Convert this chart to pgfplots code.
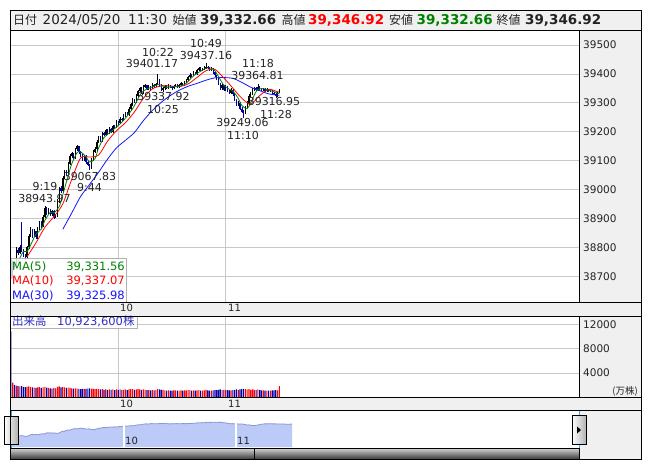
\documentclass[border=0pt]{standalone}
\usepackage{pgfplots}
\usepackage{pgfplotstable}
\pgfplotsset{compat=1.18}
\usepackage{fontspec}
\setmainfont{DejaVu Sans}
\newfontfamily\jp{Noto Sans CJK JP}
\newcommand\fs[1]{\fontsize{#1}{#1}\selectfont}

\definecolor{panelgray}{RGB}{240,240,240}
\definecolor{gridgray}{RGB}{200,200,200}
\definecolor{candleblue}{RGB}{0,0,170}
\definecolor{maG}{RGB}{0,128,0}
\definecolor{maR}{RGB}{255,0,0}
\definecolor{maB}{RGB}{20,20,255}
\definecolor{volred}{RGB}{255,0,0}
\definecolor{volblue}{RGB}{0,0,170}
\definecolor{navfill}{RGB}{187,202,247}
\definecolor{navline}{RGB}{140,150,210}
\definecolor{labblue}{RGB}{50,50,200}
\definecolor{txtgray}{RGB}{35,35,35}
\definecolor{handcyan}{RGB}{60,170,220}

% one-minute candles, 9:00 = 0 ; volume ; d = 1 up / 0 down
\pgfplotstableread{
t o h l c v d
0 38745 38760 38690 38700 10900 0
1 38700 38752 38695 38745 2400 1
2 38745 38750 38728 38735 2000 0
3 38735 38800 38730 38790 1900 1
4 38790 38798 38772 38780 1800 0
5 38780 38808 38776 38800 1750 1
6 38800 38889 38785 38790 1800 0
7 38790 38795 38765 38770 1700 0
8 38770 38778 38758 38765 1650 0
9 38765 38806 38760 38800 1700 1
10 38800 38846 38796 38840 1750 1
11 38840 38871 38835 38860 1650 1
12 38860 38864 38832 38840 1600 0
13 38840 38862 38836 38855 1550 1
14 38855 38858 38828 38835 1500 0
15 38835 38870 38830 38865 1600 1
16 38865 38892 38860 38885 1650 1
17 38885 38890 38868 38875 1500 0
18 38875 38912 38870 38905 1600 1
19 38905 38943.97 38900 38935 1700 1
20 38935 38940 38912 38920 1550 0
21 38920 38936 38915 38930 1500 1
22 38930 38933 38908 38915 1450 0
23 38915 38930 38910 38925 1400 1
24 38925 38928 38898 38905 1500 0
25 38905 38916 38900 38910 1450 1
26 38910 38966 38906 38960 1700 1
27 38960 39010 38955 39005 1750 1
28 39005 39012 38988 38995 1600 0
29 38995 39046 38990 39040 1650 1
30 39040 39067 39035 39060 1600 1
31 39060 39066 39048 39055 1500 0
32 39055 39096 39050 39090 1550 1
33 39090 39122 39085 39115 1500 1
34 39115 39131 39108 39125 1450 1
35 39125 39128 39102 39110 1400 0
36 39110 39145 39105 39140 1450 1
37 39140 39154 39134 39150 1400 1
38 39150 39152 39124 39130 1350 0
39 39130 39134 39114 39120 1300 0
40 39120 39126 39098 39105 1350 0
41 39105 39120 39100 39115 1300 1
42 39115 39118 39090 39095 1350 0
43 39095 39100 39080 39085 1400 0
44 39085 39090 39067.83 39075 1450 0
45 39075 39110 39072 39105 1400 1
46 39105 39136 39100 39130 1350 1
47 39130 39146 39126 39140 1300 1
48 39140 39170 39135 39165 1350 1
49 39165 39186 39160 39180 1300 1
50 39180 39184 39164 39170 1250 0
51 39170 39200 39166 39195 1300 1
52 39195 39198 39185 39190 1200 0
53 39190 39210 39186 39205 1250 1
54 39205 39208 39190 39195 1200 0
55 39195 39215 39192 39210 1250 1
56 39210 39214 39196 39200 1200 0
57 39200 39225 39196 39220 1250 1
58 39220 39224 39210 39215 1150 0
59 39215 39240 39212 39235 1250 1
60 39235 39238 39225 39230 1200 0
61 39230 39250 39226 39245 1250 1
62 39245 39248 39235 39240 1150 0
63 39240 39260 39236 39255 1200 1
64 39255 39270 39250 39265 1250 1
65 39265 39268 39255 39260 1150 0
66 39260 39285 39256 39280 1250 1
67 39280 39300 39276 39295 1300 1
68 39295 39316 39290 39310 1300 1
69 39310 39314 39300 39305 1200 0
70 39305 39330 39300 39325 1250 1
71 39325 39346 39320 39340 1300 1
72 39340 39356 39336 39350 1250 1
73 39350 39354 39330 39335 1200 0
74 39335 39360 39332 39355 1250 1
75 39355 39366 39350 39360 1200 1
76 39360 39363 39343 39348 1150 0
77 39348 39360 39345 39355 1150 1
78 39355 39358 39345 39350 1100 0
79 39350 39367 39347 39362 1150 1
80 39362 39365 39353 39358 1100 0
81 39358 39370 39354 39365 1150 1
82 39365 39401.17 39360 39380 1300 1
83 39380 39384 39355 39360 1250 0
84 39360 39364 39340 39345 1200 0
85 39345 39355 39337.92 39350 1200 1
86 39350 39362 39346 39358 1100 1
87 39358 39361 39348 39352 1050 0
88 39352 39364 39349 39360 1100 1
89 39360 39362 39351 39355 1050 0
90 39355 39358 39346 39350 1050 0
91 39350 39362 39347 39358 1100 1
92 39358 39366 39355 39362 1100 1
93 39362 39364 39351 39355 1050 0
94 39355 39364 39352 39360 1050 1
95 39360 39372 39357 39368 1100 1
96 39368 39370 39358 39362 1050 0
97 39362 39376 39359 39372 1100 1
98 39372 39382 39369 39378 1100 1
99 39378 39394 39375 39390 1150 1
100 39390 39402 39386 39398 1150 1
101 39398 39400 39390 39395 1050 0
102 39395 39410 39392 39405 1100 1
103 39405 39408 39396 39400 1050 0
104 39400 39416 39397 39412 1100 1
105 39412 39425 39409 39420 1150 1
106 39420 39423 39411 39415 1050 0
107 39415 39422 39412 39418 1050 1
108 39418 39428 39415 39422 1100 1
109 39422 39437.16 39418 39425 1200 1
110 39425 39428 39416 39420 1100 0
111 39420 39424 39410 39415 1050 0
112 39415 39424 39412 39418 1050 1
113 39418 39421 39400 39405 1100 0
114 39405 39408 39390 39395 1150 0
115 39395 39398 39380 39385 1150 0
116 39385 39388 39360 39365 1200 0
117 39365 39368 39344 39350 1250 0
118 39350 39365 39346 39360 1150 1
119 39360 39363 39340 39345 1200 0
120 39345 39360 39342 39355 1150 1
121 39355 39358 39336 39340 1150 0
122 39340 39344 39330 39335 1100 0
123 39335 39350 39332 39345 1100 1
124 39345 39348 39325 39330 1150 0
125 39330 39333 39305 39310 1200 0
126 39310 39314 39290 39295 1250 0
127 39295 39305 39290 39300 1150 1
128 39300 39303 39275 39280 1250 0
129 39280 39284 39264 39270 1300 0
130 39270 39276 39249.06 39265 1350 0
131 39265 39290 39260 39285 1300 1
132 39285 39305 39281 39300 1250 1
133 39300 39330 39296 39325 1300 1
134 39325 39336 39320 39330 1200 1
135 39330 39350 39326 39345 1250 1
136 39345 39356 39340 39350 1200 1
137 39350 39354 39340 39345 1150 0
138 39345 39364.81 39342 39355 1250 1
139 39355 39358 39345 39350 1150 0
140 39350 39353 39340 39345 1100 0
141 39345 39352 39342 39348 1100 1
142 39348 39351 39338 39342 1050 0
143 39342 39350 39339 39345 1050 1
144 39345 39348 39336 39340 1050 0
145 39340 39347 39337 39343 1050 1
146 39343 39346 39330 39335 1100 0
147 39335 39338 39326 39330 1100 0
148 39330 39333 39316.95 39325 1150 0
149 39325 39336 39322 39332.66 1100 1
150 39332.66 39346.92 39332.66 39346.92 1800 1
}\candles

\pgfplotsset{
  panel/.style={scale only axis, anchor=south west, width=569pt,
    xmin=-0.5, xmax=317.4,
    axis line style={draw=none}, major tick length=0pt,
    grid=major, major grid style={draw=gridgray, line width=0.8pt},
    xtick={60,120}, xticklabels={},
    scaled y ticks=false,
    yticklabel pos=right,
    yticklabel style={font=\fs{10.5}, text=txtgray, inner sep=0pt, xshift=4pt}},
  % candles: error bars only; rows of the other colour get zero length
  wick/.style={draw=none, mark=none, error bars/.cd, y dir=both, y explicit,
    error mark=none, error bar style={draw=#1, line width=0.5pt, line cap=butt}},
  body/.style={draw=none, mark=none, error bars/.cd, y dir=both, y explicit,
    error mark=none, error bar style={draw=#1, line width=1.3pt, line cap=butt}},
  vol/.style={ybar, bar width=1.15pt, bar shift=0pt, draw=none, fill=#1, mark=none},
}

\begin{document}
\begin{tikzpicture}[x=1pt,y=-1pt]
\path (0,0) rectangle (653,470);

%%%%%%%%%%%%%%%% gray bands %%%%%%%%%%%%%%%%
\fill[panelgray] (10,10) rectangle (641,30);
\fill[panelgray] (579,30) rectangle (641,302);
\fill[panelgray] (10,302) rectangle (641,316);
\fill[panelgray] (579,316) rectangle (641,397);
\fill[panelgray] (10,397) rectangle (641,410);
\fill[panelgray] (579,410) rectangle (641,459);

%%%%%%%%%%%%%%%% price panel %%%%%%%%%%%%%%%%
\begin{axis}[panel, at={(10pt,-302pt)}, height=272pt,
  ymin=38611, ymax=39552,
  ytick={38700,38800,38900,39000,39100,39200,39300,39400,39500},
  yticklabels={38700,38800,38900,39000,39100,39200,39300,39400,39500}]

\addplot[wick=black] table[x=t, y=o,
  y error plus expr={\thisrow{d}==1 ? \thisrow{h}-\thisrow{o} : 0},
  y error minus expr={\thisrow{d}==1 ? \thisrow{o}-\thisrow{l} : 0}] {\candles};
\addplot[wick=candleblue] table[x=t, y=o,
  y error plus expr={\thisrow{d}==0 ? \thisrow{h}-\thisrow{o} : 0},
  y error minus expr={\thisrow{d}==0 ? \thisrow{o}-\thisrow{l} : 0}] {\candles};
\addplot[body=black] table[x=t, y=o,
  y error plus expr={\thisrow{d}==1 ? \thisrow{c}-\thisrow{o} : 0},
  y error minus expr=0] {\candles};
\addplot[body=candleblue] table[x=t, y=o,
  y error plus expr=0,
  y error minus expr={\thisrow{d}==0 ? \thisrow{o}-\thisrow{c} : 0}] {\candles};

% MA(30)
\addplot[maB, line width=0.8pt, smooth, mark=none] coordinates {
(29,38862.5) (34,38919) (39,38976.5) (44,39018) (49,39059.8) (54,39105.2)
(59,39144.2) (64,39170.5) (69,39197.2) (74,39238.2) (79,39273.3) (84,39301.8)
(89,39324.9) (94,39343.3) (99,39357.3) (104,39367.4) (109,39378.3) (114,39386.4)
(119,39387.4) (124,39384.8) (129,39370.9) (134,39354.1) (139,39342.3) (144,39331.2)
(149,39326.5) (150,39326.25)};
% MA(10)
\addplot[maR, line width=0.8pt, smooth, mark=none] coordinates {
(9,38767.5) (14,38815.5) (19,38869.5) (24,38906) (29,38950.5) (34,39035.5)
(39,39109.5) (44,39112.5) (49,39119.5) (54,39167.5) (59,39203.5) (64,39231.5)
(69,39268.5) (74,39315.5) (79,39348) (84,39358.3) (89,39358.3) (94,39356)
(99,39365.5) (104,39388) (109,39411) (114,39415.3) (119,39385.8) (124,39351)
(129,39316) (134,39296) (139,39325) (144,39346.5) (149,39338.6) (150,39337.07)};
% MA(5)
\addplot[maG, line width=0.8pt, smooth, mark=none] coordinates {
(4,38750) (7,38786) (9,38785) (12,38821) (14,38846) (17,38863) (19,38893)
(22,38921) (24,38919) (27,38941) (29,38982) (32,39048) (34,39089) (37,39128)
(39,39130) (42,39113) (44,39095) (47,39107) (49,39144) (52,39180) (54,39191)
(57,39206) (59,39216) (62,39233) (64,39247) (67,39271) (69,39290) (72,39326)
(74,39341) (77,39350.6) (79,39355) (82,39363) (84,39361.6) (87,39353) (89,39355)
(92,39357) (94,39357) (97,39363.4) (99,39374) (102,39393.2) (104,39402) (107,39413)
(109,39420) (112,39420) (114,39410.6) (117,39380) (119,39361) (122,39347)
(124,39341) (127,39316) (129,39291) (132,39280) (134,39301) (137,39339)
(139,39349) (142,39348) (144,39344) (147,39338.6) (149,39333.1) (150,39331.56)};
\end{axis}

%%%%%%%%%%%%%%%% volume panel %%%%%%%%%%%%%%%%
\begin{axis}[panel, at={(10pt,-397pt)}, height=81pt,
  ymin=0, ymax=13450,
  ytick={4000,8000,12000}, yticklabels={4000,8000,12000}]
\addplot[vol=volred]
  table[x=t, y expr={\thisrow{d}==1 ? \thisrow{v} : 0}] {\candles};
\addplot[vol=volblue]
  table[x=t, y expr={\thisrow{d}==0 ? \thisrow{v} : 0}] {\candles};
\end{axis}

%%%%%%%%%%%%%%%% navigator %%%%%%%%%%%%%%%%
\begin{axis}[scale only axis, anchor=south west, at={(10pt,-447pt)},
  width=569pt, height=37pt, xmin=-1.07, xmax=303.7,
  ymin=38271, ymax=39992, hide axis]
\addplot[fill=navfill, draw=none] table[x=t, y=c] {\candles} \closedcycle;
\addplot[navline, line width=0.8pt, mark=none] table[x=t, y=c] {\candles};
\draw[white, line width=1.2pt] (axis cs:60,38271) -- (axis cs:60,39992);
\draw[white, line width=1.2pt] (axis cs:120,38271) -- (axis cs:120,39992);
\end{axis}

%%%%%%%%%%%%%%%% price annotations %%%%%%%%%%%%%%%%
\begin{scope}[every node/.style={font=\fs{11}, text=txtgray, inner sep=0pt}]
\node at (45,186) {9:19};
\node at (44.5,198.5) {38943.97};
\node at (90,176) {39067.83};
\node at (89.5,187.5) {9:44};
\node at (158,52.5) {10:22};
\node at (152,63.5) {39401.17};
\node at (206,43.5) {10:49};
\node at (206,55) {39437.16};
\node at (163.5,96.5) {39337.92};
\node at (163,109) {10:25};
\node at (258,63) {11:18};
\node at (257.5,75) {39364.81};
\node at (242.5,122) {39249.06};
\node at (243,135) {11:10};
\node at (274,101.5) {39316.95};
\node at (276,114) {11:28};
\end{scope}

%%%%%%%%%%%%%%%% MA legend box %%%%%%%%%%%%%%%%
\fill[white, fill opacity=0.8] (10,258) rectangle (126,302);
\draw[gray!60, line width=0.6pt] (10,258) rectangle (126,302);
\begin{scope}[every node/.style={font=\fs{11.5}, inner sep=0pt}]
\node[anchor=base west, text=maG] at (12,271) {MA(5)};
\node[anchor=base east, text=maG] at (125,271) {39,331.56};
\node[anchor=base west, text=maR] at (12,285) {MA(10)};
\node[anchor=base east, text=maR] at (125,285) {39,337.07};
\node[anchor=base west, text=maB] at (12,299) {MA(30)};
\node[anchor=base east, text=maB] at (125,299) {39,325.98};
\end{scope}

%%%%%%%%%%%%%%%% volume label %%%%%%%%%%%%%%%%
\fill[white, fill opacity=0.8] (10,316) rectangle (137,328);
\draw[gray!60, line width=0.6pt] (10,316) rectangle (137,328);
\node[anchor=base west, inner sep=0pt, text=labblue, font=\fs{11.5}] at (12,325.5) {{\jp 出来高}};
\node[anchor=base west, inner sep=0pt, text=labblue, font=\fs{11.5}] at (57,325.5) {10,923,600{\jp 株}};
\node[anchor=base east, inner sep=0pt, text=txtgray, font=\fs{9.5}] at (638,394) {{\jp (万株)}};

%%%%%%%%%%%%%%%% time strips %%%%%%%%%%%%%%%%
\begin{scope}[every node/.style={font=\fs{10}, text=txtgray, inner sep=0pt, anchor=base west}]
\node at (120,311) {10};
\node at (228,311) {11};
\node at (120,407) {10};
\node at (228,407) {11};
\node at (125,444) {10};
\node at (237,444) {11};
\end{scope}

%%%%%%%%%%%%%%%% header %%%%%%%%%%%%%%%%
\begin{scope}[every node/.style={inner sep=0pt, anchor=base west}]
\node[font=\fs{12}\jp, text=txtgray] at (13,25) {日付};
\node[font=\fs{13.5}, text=txtgray] at (42.5,25) {2024/05/20};
\node[font=\fs{13.5}, text=txtgray] at (128,25) {11:30};
\node[font=\fs{12}\jp, text=txtgray] at (172.5,25) {始値};
\node[font=\fs{13.5}\bfseries, text=txtgray] at (200,25) {39,332.66};
\node[font=\fs{12}\jp, text=txtgray] at (281.5,25) {高値};
\node[font=\fs{13.5}\bfseries, text=maR] at (308,25) {39,346.92};
\node[font=\fs{12}\jp, text=txtgray] at (389,25) {安値};
\node[font=\fs{13.5}\bfseries, text=maG] at (416.5,25) {39,332.66};
\node[font=\fs{12}\jp, text=txtgray] at (496.5,25) {終値};
\node[font=\fs{13.5}\bfseries, text=txtgray] at (525,25) {39,346.92};
\end{scope}

%%%%%%%%%%%%%%%% scrollbar and handles %%%%%%%%%%%%%%%%
\shade[top color={rgb,255:red,215;green,215;blue,215}, bottom color={rgb,255:red,60;green,60;blue,60}]
  (10,448) rectangle (579,459);
\draw[black, line width=0.8pt] (10,448) rectangle (579,459);
\draw[black, line width=0.8pt] (254,448) -- (254,459);
\draw[handcyan, line width=0.8pt] (11,410) -- (11,448);
\draw[handcyan, line width=0.8pt] (579,410) -- (579,448);
\shade[left color=white, right color=gray!60] (4,416) rectangle (18,444);
\draw[black, line width=0.7pt] (4,416) rectangle (18,444);
\shade[left color=white, right color=gray!60] (572,415) rectangle (586,444);
\draw[black, line width=0.7pt] (572,415) rectangle (586,444);
\fill[black] (577,426.5) -- (581,430) -- (577,433.5) -- cycle;

%%%%%%%%%%%%%%%% frame %%%%%%%%%%%%%%%%
\begin{scope}[black, line width=0.9pt]
\draw (10,10) rectangle (641,459);
\draw (10,30) -- (641,30);
\draw (579,30) -- (579,302);
\draw (10,302) -- (641,302);
\draw (10,316) -- (641,316);
\draw (579,316) -- (579,397);
\draw (10,397) -- (641,397);
\draw (10,410) -- (641,410);
\draw (579,448) -- (579,459);
\end{scope}
\end{tikzpicture}
\end{document}
